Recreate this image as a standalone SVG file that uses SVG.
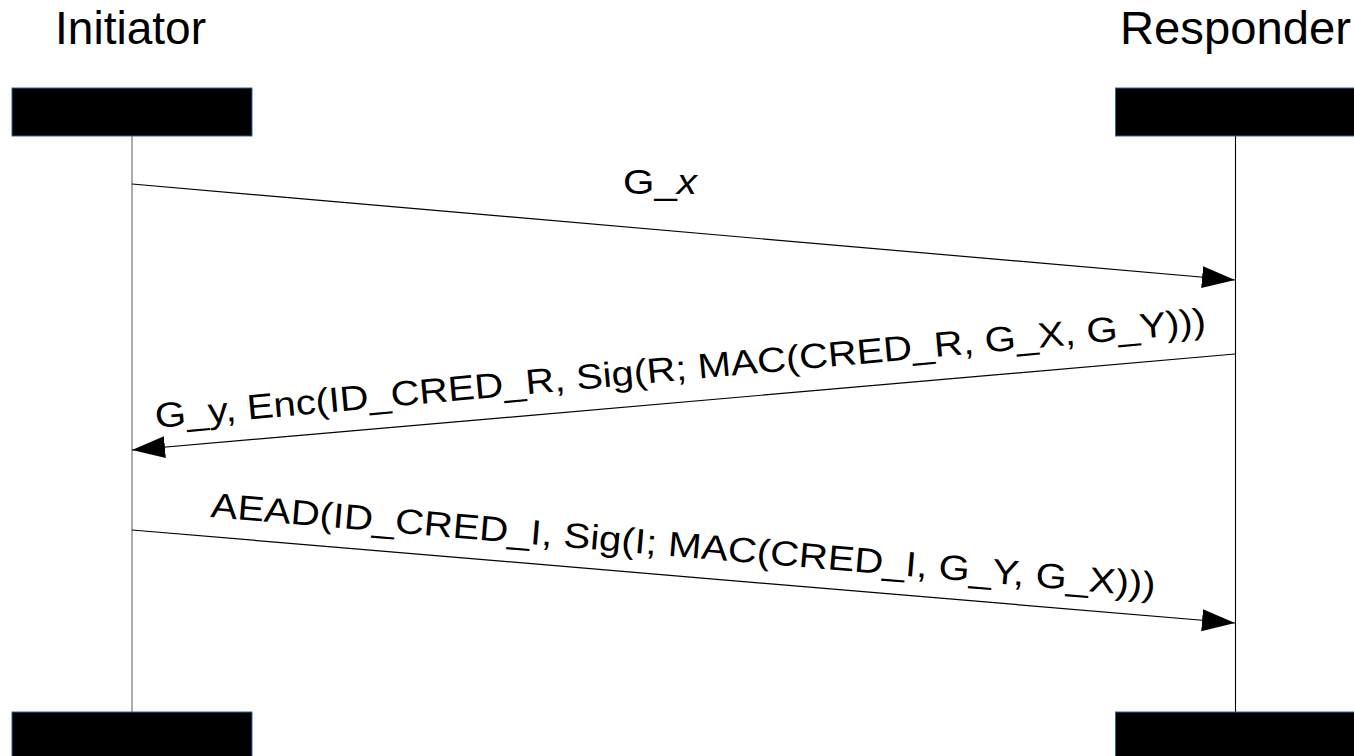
<svg xmlns="http://www.w3.org/2000/svg" width="1354" height="756" viewBox="0 0 1354 756">
<style>
.title{font-family:"Liberation Sans",Arial,sans-serif;font-size:46px;fill:#000}
.lbl{font-family:"Liberation Sans",Arial,sans-serif;font-size:35px;fill:#000}
.box{fill:#000;stroke:#3465a4;stroke-width:1}
.msg{stroke:#000;stroke-width:1.2;fill:none;marker-end:url(#ah)}
</style>
<defs>
<marker id="ah" markerUnits="userSpaceOnUse" markerWidth="34" markerHeight="24" refX="33" refY="11" orient="auto" viewBox="0 0 34 24">
<path d="M0,0 L33,11 L0,22 z" fill="#000"/>
</marker>
</defs>
<rect width="1354" height="756" fill="#fff"/>
<g id="initiator">
<text class="title" x="55" y="44" textLength="151" lengthAdjust="spacingAndGlyphs">Initiator</text>
<line x1="132" y1="136" x2="132" y2="712" stroke="#808080" stroke-width="1.3"/>
<rect class="box" x="12" y="88" width="240" height="48"/>
<rect class="box" x="12" y="712" width="240" height="60"/>
</g>
<g id="responder">
<text class="title" x="1120" y="44" textLength="231" lengthAdjust="spacingAndGlyphs">Responder</text>
<line x1="1235.5" y1="136" x2="1235.5" y2="712" stroke="#000" stroke-width="1.1"/>
<rect class="box" x="1115.5" y="88" width="260" height="48"/>
<rect class="box" x="1115.5" y="712" width="260" height="60"/>
</g>
<g id="connectors">
<line class="msg" x1="132" y1="184" x2="1235" y2="280"/>
<line class="msg" x1="1235" y1="354" x2="132" y2="450"/>
<line class="msg" x1="132" y1="530" x2="1235" y2="623"/>
</g>
<g id="labels">
<text class="lbl" x="623" y="194" textLength="74" lengthAdjust="spacingAndGlyphs">G_<tspan font-style="italic">x</tspan></text>
<text class="lbl" x="156" y="428" transform="rotate(-5.2 156 428)" textLength="1055" lengthAdjust="spacingAndGlyphs">G_y, Enc(ID_CRED_R, Sig(R; MAC(CRED_R, G_X, G_Y)))</text>
<text class="lbl" x="210" y="517" transform="rotate(4.83 210 517)" textLength="948" lengthAdjust="spacingAndGlyphs">AEAD(ID_CRED_I, Sig(I; MAC(CRED_I, G_Y, G_X)))</text>
</g>
</svg>
